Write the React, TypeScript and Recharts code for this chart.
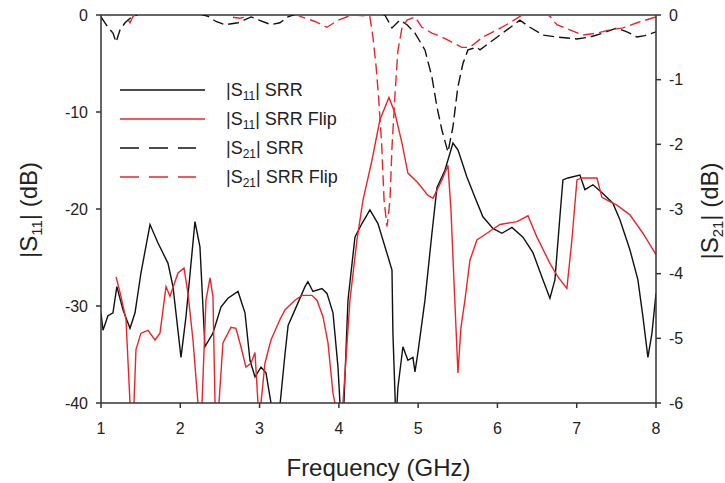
import { LineChart, Line, XAxis, YAxis, ReferenceLine, Legend } from 'recharts';

// [frequency GHz, dB] pairs
const s11Srr: [number, number][] = [
	[1.0, -30.7], [1.025, -32.5], [1.088, -31], [1.151, -30.7], [1.2, -28], [1.277, -30.4],
	[1.366, -32.3], [1.429, -30.7], [1.504, -26.6], [1.618, -21.6], [1.719, -23.5], [1.845, -25.6],
	[1.908, -28], [2.009, -35.3], [2.072, -31.1], [2.185, -21.3], [2.248, -23.9], [2.311, -34.2],
	[2.412, -32.8], [2.513, -30.1], [2.601, -29.2], [2.728, -28.5], [2.816, -30.7], [2.879, -35.6],
	[2.942, -37.3], [3.018, -36.3], [3.081, -36.9], [3.144, -40], [3.2, -47], [3.26, -40],
	[3.32, -35], [3.36, -32], [3.446, -30.4], [3.573, -28], [3.61, -27.5], [3.673, -28.5],
	[3.787, -28.2], [3.85, -28.7], [3.926, -30.7], [3.989, -36.3], [4.014, -40], [4.04, -46],
	[4.064, -40], [4.115, -29.4], [4.203, -22.9], [4.291, -21.5], [4.392, -20.1], [4.493, -21.5],
	[4.619, -24.9], [4.67, -26.3], [4.682, -32.8], [4.72, -42], [4.745, -38.4], [4.808, -34.2],
	[4.871, -35.6], [4.934, -35.3], [4.96, -36.8], [4.997, -34.8], [5.086, -29.4], [5.174, -22.5],
	[5.237, -17.8], [5.338, -16], [5.439, -13.2], [5.502, -13.9], [5.615, -16.7], [5.716, -18.8],
	[5.817, -20.8], [5.943, -22], [6.057, -22.5], [6.183, -21.9], [6.322, -22.9], [6.448, -24.5],
	[6.574, -27.3], [6.662, -29.2], [6.725, -27.3], [6.788, -20.8], [6.826, -17], [6.889, -16.8],
	[7.04, -16.5], [7.103, -18], [7.204, -17.5], [7.33, -18.4], [7.456, -19.4], [7.545, -21.1],
	[7.671, -24.2], [7.772, -27.3], [7.835, -31.1], [7.898, -35.3], [7.949, -32.8], [8.0, -28.7],
];

const s11SrrFlip: [number, number][] = [
	[1.19, -27], [1.252, -29], [1.315, -31.4], [1.366, -40], [1.39, -48], [1.416, -40],
	[1.441, -34.5], [1.504, -32.8], [1.593, -32.5], [1.681, -33.5], [1.744, -32.8], [1.82, -28],
	[1.87, -29], [1.971, -26.6], [2.047, -26.1], [2.097, -28.7], [2.16, -33.5], [2.223, -40],
	[2.25, -48], [2.274, -40], [2.324, -29.4], [2.375, -27.1], [2.412, -29], [2.438, -40],
	[2.46, -48], [2.488, -40], [2.538, -33.8], [2.639, -32.2], [2.702, -32.3], [2.765, -34.2],
	[2.828, -36.3], [2.892, -35.9], [2.942, -34.8], [2.98, -40], [3.0, -48], [3.018, -40],
	[3.068, -35.9], [3.144, -33.5], [3.257, -31.4], [3.32, -30.4], [3.446, -29.4], [3.535, -28.9],
	[3.661, -28.9], [3.724, -29.4], [3.8, -31.1], [3.863, -33.8], [3.926, -39], [3.951, -40],
	[3.99, -48], [4.052, -40], [4.14, -29.4], [4.228, -23.2], [4.304, -19.1], [4.417, -15],
	[4.518, -10.8], [4.632, -8.5], [4.707, -10.1], [4.796, -13.2], [4.871, -16.3], [4.997, -17.3],
	[5.124, -18.6], [5.187, -18.9], [5.3, -17], [5.376, -15.5], [5.414, -20.1], [5.46, -29],
	[5.502, -36.9], [5.54, -32.2], [5.59, -29.4], [5.653, -25.3], [5.741, -23.2], [5.868, -22.5],
	[6.032, -21.6], [6.246, -21.3], [6.385, -20.7], [6.498, -22.9], [6.662, -25.6], [6.763, -27],
	[6.876, -28.2], [6.939, -23.2], [7.003, -17], [7.066, -16.8], [7.255, -16.8], [7.318, -18.8],
	[7.456, -19.4], [7.507, -19.6], [7.671, -20.6], [7.835, -22.5], [8.0, -24.7],
];

const s21Srr: [number, number][] = [
	[1.0, -0.03], [1.088, -0.19], [1.151, -0.28], [1.19, -0.42], [1.24, -0.23], [1.303, -0.12],
	[1.366, -0.05], [1.5, 0.03], [2.2, 0.03], [2.35, -0.02], [2.45, -0.1], [2.564, -0.15],
	[2.728, -0.12], [2.892, -0.03], [3.144, -0.15], [3.257, -0.12], [3.358, -0.03], [3.5, 0.03],
	[4.5, 0.03], [4.58, 0], [4.67, -0.2], [4.77, -0.08], [4.86, -0.15], [4.96, -0.28],
	[5.086, -0.54], [5.174, -0.96], [5.237, -1.42], [5.3, -1.78], [5.376, -2.12], [5.439, -1.73],
	[5.5, -1.12], [5.565, -0.75], [5.628, -0.54], [5.741, -0.5], [5.78, -0.54], [5.943, -0.39],
	[6.12, -0.23], [6.284, -0.08], [6.41, -0.19], [6.574, -0.31], [6.75, -0.34], [7.0, -0.37],
	[7.166, -0.34], [7.33, -0.28], [7.507, -0.2], [7.633, -0.26], [7.759, -0.34], [7.86, -0.32],
	[8.0, -0.26],
];

const s21SrrFlip: [number, number][] = [
	[1.0, 0.03], [1.3, 0.03], [1.33, -0.05], [1.366, -0.12], [1.4, -0.03], [1.45, 0.03],
	[2.55, 0.03], [2.64, -0.03], [2.75, -0.05], [2.82, -0.03], [2.9, 0.03], [3.45, 0.03],
	[3.51, -0.02], [3.7, -0.1], [3.85, -0.19], [3.99, -0.08], [4.165, 0], [4.39, -0.02],
	[4.43, -0.34], [4.47, -0.8], [4.5, -1.25], [4.54, -2.0], [4.57, -2.86], [4.607, -3.27],
	[4.625, -3.1], [4.645, -2.86], [4.67, -2.05], [4.707, -1.25], [4.745, -0.55], [4.796, -0.2],
	[4.859, -0.08], [4.96, -0.03], [5.048, -0.19], [5.174, -0.28], [5.3, -0.34], [5.426, -0.42],
	[5.552, -0.5], [5.653, -0.5], [5.817, -0.34], [5.994, -0.23], [6.158, -0.12], [6.284, -0.02],
	[6.35, 0.03], [6.6, 0.03], [6.662, -0.02], [6.75, -0.15], [6.914, -0.23], [7.078, -0.31],
	[7.255, -0.28], [7.419, -0.23], [7.583, -0.2], [7.759, -0.12], [8.0, -0.03],
];

const freqTicks = [1, 2, 3, 4, 5, 6, 7, 8];
const s11Ticks = [-40, -30, -20, -10, 0];
const s21Ticks = [-6, -5, -4, -3, -2, -1, 0];
const legendParams = ['11', '11', '21', '21'];
const legendNames = ['SRR', 'SRR Flip', 'SRR', 'SRR Flip'];

const FONT = '"Liberation Sans", Arial, sans-serif';
const BLACK = '#111111';
const RED = '#e8262a';
const AXIS = '#333333';
const TEXT = '#222222';
const DASH = '11 5';

const toPoints = (pairs: [number, number][]) => pairs.map(([f, v]) => ({ f, v }));

const legendStyles = [
	{ color: BLACK, dash: undefined as string | undefined },
	{ color: RED, dash: undefined as string | undefined },
	{ color: BLACK, dash: '19 10' },
	{ color: RED, dash: '19 10' },
];

function ChartLegend() {
	return (
		<svg width={200} height={120} style={{ fontFamily: FONT, overflow: 'visible' }}>
			{legendStyles.map((s, i) => {
				const y = 15 + i * 29;
				return (
					<g key={i}>
						<line
							x1={5}
							x2={s.dash ? 81 : 90}
							y1={y}
							y2={y}
							stroke={s.color}
							strokeWidth={1.5}
							strokeDasharray={s.dash}
						/>
						<text x={111} y={y + 6} fontSize={18} fill={TEXT}>
							|S
							<tspan fontSize={12} dy={4}>
								{legendParams[i]}
							</tspan>
							<tspan dy={-4}>| {legendNames[i]}</tspan>
						</text>
					</g>
				);
			})}
		</svg>
	);
}

function LeftTitle() {
	return (
		<text transform="translate(37,210) rotate(-90)" textAnchor="middle" fontSize={24} fill={TEXT} fontFamily={FONT}>
			|S
			<tspan fontSize={15} dy={5}>11</tspan>
			<tspan dy={-5}>| (dB)</tspan>
		</text>
	);
}

function RightTitle() {
	return (
		<text transform="translate(718,211) rotate(-90)" textAnchor="middle" fontSize={24} fill={TEXT} fontFamily={FONT}>
			|S
			<tspan fontSize={15} dy={5}>21</tspan>
			<tspan dy={-5}>| (dB)</tspan>
		</text>
	);
}

function BottomTitle() {
	return (
		<text x={378.5} y={476} textAnchor="middle" fontSize={24} fill={TEXT} fontFamily={FONT}>
			Frequency (GHz)
		</text>
	);
}

export default function App() {
	const tick = { fill: TEXT, fontSize: 16, fontFamily: FONT };
	return (
		<div style={{ position: 'absolute', left: 0, top: 0, width: 725, height: 483, background: '#fff' }}>
			<LineChart width={725} height={483} margin={{ top: 15, right: 0, bottom: 0, left: 0 }}>
				<XAxis
					dataKey="f"
					type="number"
					domain={[1, 8]}
					ticks={freqTicks}
					interval={0}
					allowDataOverflow
					height={80}
					tickSize={5}
					tickMargin={15}
					stroke={AXIS}
					strokeWidth={1.5}
					tick={tick}
					label={<BottomTitle />}
				/>
				<YAxis
					yAxisId="left"
					orientation="left"
					width={101}
					domain={[-40, 0]}
					ticks={s11Ticks}
					interval={0}
					allowDataOverflow
					tickSize={5}
					tickMargin={8}
					stroke={AXIS}
					strokeWidth={1.5}
					tick={tick}
					label={<LeftTitle />}
				/>
				<YAxis
					yAxisId="right"
					orientation="right"
					width={69}
					domain={[-6, 0]}
					ticks={s21Ticks}
					interval={0}
					allowDataOverflow
					tickSize={5}
					tickMargin={8}
					stroke={AXIS}
					strokeWidth={1.5}
					tick={tick}
					label={<RightTitle />}
				/>
				<ReferenceLine yAxisId="left" y={0} stroke={AXIS} strokeWidth={1.5} />
				<Line
					yAxisId="right"
					name="|S21| SRR"
					data={toPoints(s21Srr)}
					dataKey="v"
					stroke={BLACK}
					strokeWidth={1.4}
					strokeDasharray={DASH}
					dot={false}
					isAnimationActive={false}
				/>
				<Line
					yAxisId="right"
					name="|S21| SRR Flip"
					data={toPoints(s21SrrFlip)}
					dataKey="v"
					stroke={RED}
					strokeWidth={1.4}
					strokeDasharray={DASH}
					dot={false}
					isAnimationActive={false}
				/>
				<Line
					yAxisId="left"
					name="|S11| SRR"
					data={toPoints(s11Srr)}
					dataKey="v"
					stroke={BLACK}
					strokeWidth={1.4}
					dot={false}
					isAnimationActive={false}
				/>
				<Line
					yAxisId="left"
					name="|S11| SRR Flip"
					data={toPoints(s11SrrFlip)}
					dataKey="v"
					stroke={RED}
					strokeWidth={1.4}
					dot={false}
					isAnimationActive={false}
				/>
				<Legend
					layout="vertical"
					align="center"
					verticalAlign="middle"
					content={() => <ChartLegend />}
					wrapperStyle={{ left: 115, top: 75, width: 200, height: 120 }}
				/>
			</LineChart>
		</div>
	);
}
